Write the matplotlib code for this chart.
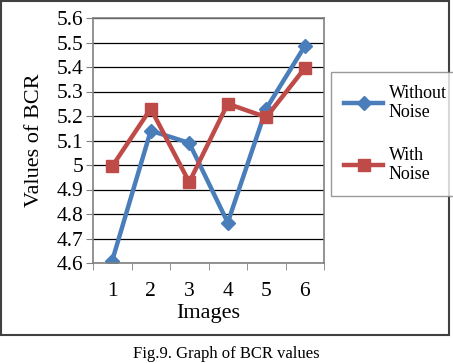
import matplotlib.pyplot as plt
from matplotlib.patches import Rectangle

plt.rcParams['font.family'] = ['Liberation Serif', 'DejaVu Serif']

images = [1, 2, 3, 4, 5, 6]
without_noise = [4.61, 5.14, 5.09, 4.765, 5.23, 5.485]
with_noise = [4.995, 5.23, 4.93, 5.25, 5.195, 5.395]
yticks = [4.6, 4.7, 4.8, 4.9, 5.0, 5.1, 5.2, 5.3, 5.4, 5.5, 5.6]
ylabels = ['4.6', '4.7', '4.8', '4.9', '5', '5.1', '5.2', '5.3', '5.4', '5.5', '5.6']

fig = plt.figure(figsize=(4.53, 3.63), dpi=100)
ax = fig.add_axes([93 / 453, 1 - 263 / 363, (324 - 93) / 453, (263 - 18) / 363])

blue = '#4a7ebb'
red = '#be4b48'
ax.plot(images, without_noise, color=blue, lw=3.2, marker='D', ms=7,
        label='Without\nNoise')
ax.plot(images, with_noise, color=red, lw=3.2, marker='s', ms=9,
        label='With\nNoise')

ax.set_xlim(0.5, 6.5)
ax.set_ylim(4.6, 5.6)
ax.set_yticks(yticks)
ax.set_yticklabels(ylabels, fontsize=15.5)
ax.set_xticks(images)
ax.set_xticklabels([str(i) for i in images], fontsize=15.5)
ax.set_xticks([0.5, 1.5, 2.5, 3.5, 4.5, 5.5, 6.5], minor=True)
ax.tick_params(axis='x', which='major', length=0, pad=14)
ax.tick_params(axis='x', which='minor', length=5, color='#808080')
ax.tick_params(axis='y', length=5, color='#808080', pad=2)
ax.grid(axis='y', color='black', lw=0.9)
ax.set_axisbelow(True)
for s in ax.spines.values():
    s.set_color('#808080')
    s.set_linewidth(1.2)

ax.set_xlabel('Images', fontsize=16, labelpad=2)
ax.set_ylabel('Values of BCR', fontsize=16, labelpad=9)

leg = fig.legend(loc='upper left', bbox_to_anchor=(331 / 453, 1 - 72 / 363),
                 fontsize=13, frameon=True, fancybox=False, handlelength=2.2,
                 handletextpad=0.3, labelspacing=1.4, borderpad=0.7,
                 borderaxespad=0)
leg.get_frame().set_edgecolor('#808080')
leg.get_frame().set_linewidth(1.0)

fig.patches.append(Rectangle((1 / 453, 1 - 335 / 363), 448 / 453, 334 / 363,
                             transform=fig.transFigure, fill=False,
                             edgecolor='#404040', lw=1.5))
fig.text(226 / 453, 1 - 354 / 363, 'Fig.9. Graph of BCR values', fontsize=12,
         ha='center', va='center')

fig.savefig('out.png', dpi=100)
